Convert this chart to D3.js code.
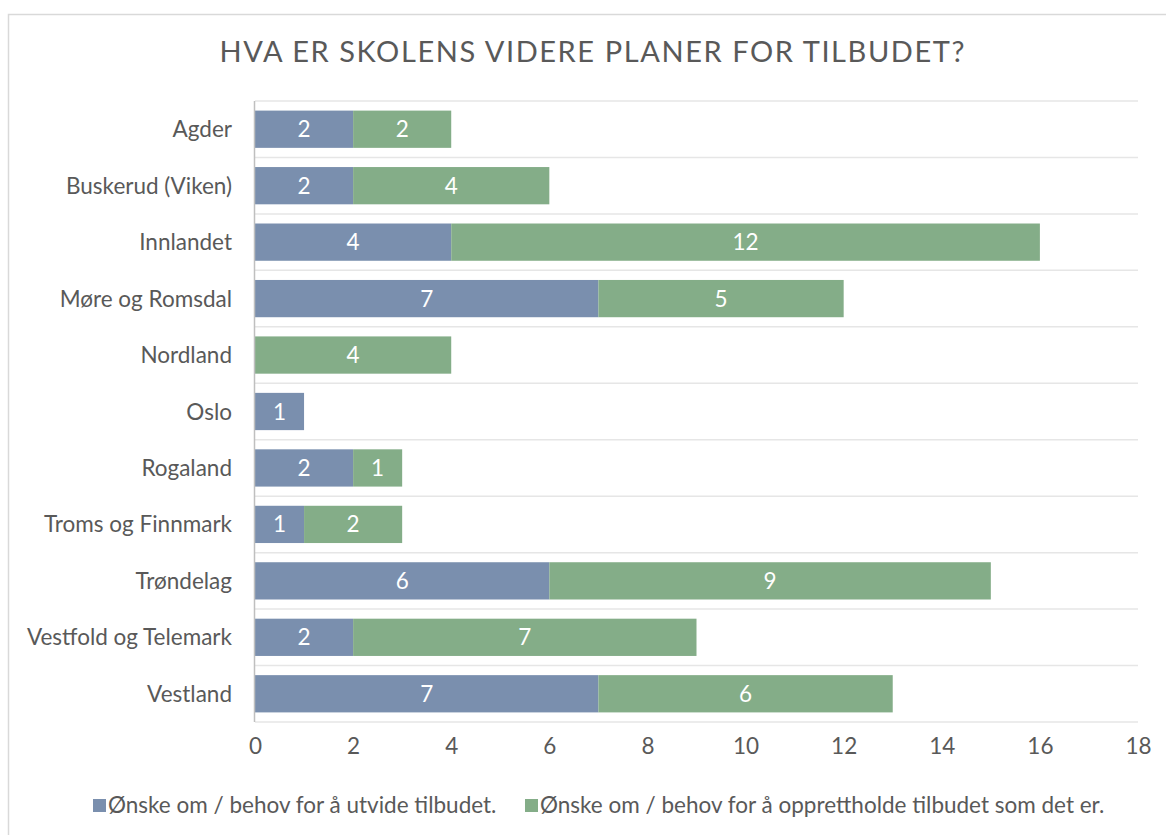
<!DOCTYPE html>
<html><head><meta charset="utf-8">
<script src="https://cdn.jsdelivr.net/npm/d3@7"></script>
<style>body{margin:0;background:#fff}svg{display:block}</style>
</head><body>
<svg id="c" width="1166" height="835"></svg>
<script>
const categories = ["Agder","Buskerud (Viken)","Innlandet","Møre og Romsdal","Nordland","Oslo","Rogaland","Troms og Finnmark","Trøndelag","Vestfold og Telemark","Vestland"];
const expand = [2,2,4,7,0,1,2,1,6,2,7];
const maintain = [2,4,12,5,4,0,1,2,9,7,6];
const seriesNames = ["Ønske om / behov for å utvide tilbudet.","Ønske om / behov for å opprettholde tilbudet som det er."];
const xTicks = [0,2,4,6,8,10,12,14,16,18];
const colors = ["#7a8fae","#84ad88"];
const FONT = "Lato, 'Open Sans', sans-serif";
const FS = 22.5;

const svg = d3.select("#c");
svg.append("rect").attr("x",8.5).attr("y",14.5).attr("width",1170).attr("height",830)
  .attr("fill","#fff").attr("stroke","#d9d9d9").attr("stroke-width",1.5);

svg.append("text").attr("x",592).attr("y",62).attr("text-anchor","middle")
  .attr("font-family",FONT).attr("font-size",29).attr("fill","#595959")
  .attr("textLength",745).attr("lengthAdjust","spacing")
  .text("HVA ER SKOLENS VIDERE PLANER FOR TILBUDET?");

const x = d3.scaleLinear().domain([0,18]).range([255,1138]);
const y = d3.scaleBand().domain(categories).range([101,722]).paddingInner(0.34).paddingOuter(0.17);
const step = y.step();

const g = svg.append("g");
d3.range(categories.length+1).forEach(i=>{
  const yy = 101 + i*step;
  g.append("line").attr("x1",255).attr("x2",1138).attr("y1",yy).attr("y2",yy)
   .attr("stroke","#e6e6e6").attr("stroke-width",1.5);
});

const stacked = d3.stack().keys(["expand","maintain"])(categories.map((c,i)=>({cat:c,expand:expand[i],maintain:maintain[i]})));
stacked.forEach((s,si)=>{
  s.forEach(d=>{
    const w = x(d[1])-x(d[0]);
    if (w<=0) return;
    svg.append("rect").attr("x",x(d[0])).attr("y",y(d.data.cat)).attr("width",w).attr("height",y.bandwidth())
      .attr("fill",colors[si]);
    svg.append("text").attr("x",(x(d[0])+x(d[1]))/2).attr("y",y(d.data.cat)+y.bandwidth()/2+8)
      .attr("text-anchor","middle").attr("font-family",FONT).attr("font-size",FS).attr("fill","#fff")
      .text(d[1]-d[0]);
  });
});

svg.append("line").attr("x1",254.5).attr("x2",254.5).attr("y1",101).attr("y2",722).attr("stroke","#bfbfbf").attr("stroke-width",1.5);

categories.forEach(c=>{
  svg.append("text").attr("x",232).attr("y",y(c)+y.bandwidth()/2+8).attr("text-anchor","end")
    .attr("font-family",FONT).attr("font-size",FS).attr("fill","#595959").text(c);
});

const xa = svg.append("g").attr("transform","translate(0,722)").call(d3.axisBottom(x).tickValues(xTicks).tickSize(0).tickPadding(16));
xa.select(".domain").remove();
xa.selectAll("text").attr("font-family",FONT).attr("font-size",FS).attr("fill","#595959");

const leg = [{x:93,t:seriesNames[0]},{x:525,t:seriesNames[1]}];
leg.forEach((l,i)=>{
  svg.append("rect").attr("x",l.x).attr("y",799).attr("width",13).attr("height",13).attr("fill",colors[i]);
  svg.append("text").attr("x",l.x+15).attr("y",813).attr("font-family",FONT).attr("font-size",FS).attr("fill","#595959").text(l.t);
});
</script>
</body></html>
